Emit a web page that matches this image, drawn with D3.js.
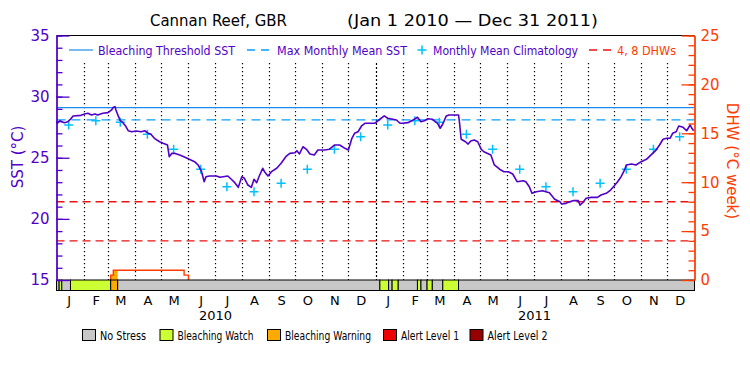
<!DOCTYPE html>
<html>
<head>
<meta charset="utf-8">
<script src="https://cdn.jsdelivr.net/npm/d3@7"></script>
<style>
  html, body { margin: 0; padding: 0; background: #fff; }
  svg { display: block; }
  text { font-family: "DejaVu Sans", sans-serif; }
</style>
</head>
<body>
<svg id="chart" width="750" height="375"></svg>
<script>
// ---------------- DATA ----------------
const siteName = "Cannan Reef, GBR";
const periodLabel = "(Jan 1 2010 \u2014 Dec 31 2011)";

const sstDates = [
"2010-01-01","2010-01-02","2010-01-05","2010-01-07","2010-01-10","2010-01-14","2010-01-17","2010-01-20","2010-01-29",
"2010-02-02","2010-02-06","2010-02-10","2010-02-14","2010-02-17","2010-02-23",
"2010-03-01","2010-03-05","2010-03-07","2010-03-09","2010-03-10","2010-03-13","2010-03-15","2010-03-18","2010-03-21","2010-03-24","2010-03-28",
"2010-04-02","2010-04-08","2010-04-12","2010-04-16","2010-04-19","2010-04-23","2010-04-29",
"2010-05-03","2010-05-08","2010-05-10","2010-05-13","2010-05-16","2010-05-22","2010-05-28",
"2010-06-02","2010-06-08","2010-06-12","2010-06-16","2010-06-19","2010-06-21","2010-06-25",
"2010-07-03","2010-07-07","2010-07-16","2010-07-20","2010-07-24","2010-07-28",
"2010-08-01","2010-08-04","2010-08-08","2010-08-12","2010-08-15","2010-08-18","2010-08-21","2010-08-25","2010-08-27","2010-08-31",
"2010-09-04","2010-09-10","2010-09-15","2010-09-21","2010-09-25",
"2010-10-01","2010-10-03","2010-10-06","2010-10-10","2010-10-14","2010-10-18","2010-10-23","2010-10-27",
"2010-11-04","2010-11-09","2010-11-15","2010-11-21","2010-11-27",
"2010-12-01","2010-12-05","2010-12-08","2010-12-12","2010-12-16","2010-12-20","2010-12-31",
"2011-01-06","2011-01-11","2011-01-15","2011-01-21","2011-01-25","2011-01-29",
"2011-02-01","2011-02-07","2011-02-13","2011-02-18","2011-02-22","2011-02-26",
"2011-03-02","2011-03-07","2011-03-13","2011-03-16","2011-03-19","2011-03-23","2011-03-26",
"2011-04-06","2011-04-07","2011-04-09","2011-04-14","2011-04-17","2011-04-20","2011-04-24","2011-04-28",
"2011-05-02","2011-05-05","2011-05-13","2011-05-17","2011-05-23","2011-05-28",
"2011-06-02","2011-06-07","2011-06-12","2011-06-19","2011-06-22","2011-06-26","2011-06-29",
"2011-07-04","2011-07-11","2011-07-15","2011-07-19","2011-07-22","2011-07-25","2011-07-31",
"2011-08-02","2011-08-07","2011-08-11","2011-08-15","2011-08-21","2011-08-23","2011-08-26","2011-08-30",
"2011-09-05","2011-09-12","2011-09-16","2011-09-22","2011-09-27",
"2011-10-01","2011-10-05","2011-10-09","2011-10-13","2011-10-15","2011-10-21","2011-10-26",
"2011-11-01","2011-11-07","2011-11-12","2011-11-18","2011-11-22","2011-11-26","2011-11-30",
"2011-12-04","2011-12-07","2011-12-11","2011-12-14","2011-12-19","2011-12-23","2011-12-27","2011-12-29","2011-12-31"
];
const sstValues = [
27.95,27.82,28.03,27.95,27.87,27.95,28.15,28.42,28.47,
28.58,28.64,28.50,28.58,28.50,28.64,
28.69,28.91,29.13,29.18,28.91,28.36,28.03,27.87,27.60,27.21,27.13,
27.19,27.13,27.21,27.00,26.92,26.59,26.31,
26.18,26.04,25.09,25.36,25.36,25.22,25.04,
24.87,24.68,24.41,23.86,23.04,23.45,23.51,
23.51,23.40,23.51,23.24,22.96,22.58,
23.45,23.32,22.77,22.58,23.24,22.96,23.51,24.14,23.86,23.51,
23.86,24.14,24.55,25.14,25.36,
25.41,25.58,25.31,25.90,25.69,25.31,25.22,25.63,
25.63,25.69,26.04,26.04,25.77,
25.63,26.59,27.00,27.13,27.60,27.82,27.82,
28.15,28.42,28.23,28.15,28.09,27.82,
27.82,27.87,28.09,28.31,27.95,28.03,
28.19,28.15,27.82,27.41,27.76,28.42,28.50,
28.50,27.95,26.51,26.31,26.12,26.37,26.45,26.31,
25.69,25.49,25.22,24.41,24.06,23.86,
23.86,23.67,23.04,23.12,23.04,22.63,22.09,
22.22,22.30,22.22,22.14,21.87,21.60,21.40,
21.22,21.27,21.40,21.49,21.49,21.13,21.32,21.68,
21.76,21.76,21.95,22.09,22.36,
22.69,23.04,23.45,24.00,24.41,24.49,24.41,
24.68,24.87,25.22,25.63,26.04,26.51,26.59,
26.59,27.00,27.13,27.60,27.49,27.21,27.68,27.41,27.21
];

// Monthly mean climatology (plotted on the 15th of each month, both years)
const climMonths = [1,2,3,4,5,6,7,8,9,10,11,12];
const climValues = [27.68,28.03,27.90,26.92,25.69,24.06,22.63,22.22,22.91,24.06,25.69,26.72];
const climYears = [2010, 2011];

const maxMonthlyMean = 28.1;
const bleachingThreshold = 29.1;
const dhwLevels = [4, 8];

// Degree heating weeks (step series)
const dhwDates  = ["2010-03-04","2010-03-04","2010-03-07","2010-05-27","2010-06-01"];
const dhwValues = [0, 0.5, 1.0, 0.5, 0];

// Stress level periods (start dates; each lasts until the next start)
const stressStarts = ["2010-01-01","2010-01-04","2010-01-07","2010-01-17","2010-03-04","2010-03-12",
  "2011-01-06","2011-01-16","2011-01-20","2011-01-27","2011-02-18","2011-02-22","2011-03-01","2011-03-07","2011-03-19","2011-04-06"];
const stressLevels = [0,1,0,1,2,0, 1,0,1,0,1,0,1,0,1,0];
const seriesEnd = "2012-01-01";

const stressNames = ["No Stress","Bleaching Watch","Bleaching Warning","Alert Level 1","Alert Level 2"];
const stressColors = ["#c8c8c8","#ccff33","#ffaa00","#ee0000","#960000"];

const monthLetters = ["J","F","M","A","M","J","J","A","S","O","N","D"];
const yearLabels = ["2010","2011"];
const sstTicks = [15,20,25,30,35];
const dhwTicks = [0,5,10,15,20,25];

const legendLabels = ["Bleaching Threshold SST","Max Monthly Mean SST","Monthly Mean Climatology","4, 8 DHWs"];

// ---------------- STYLE ----------------
const PURPLE = "#5000c8";
const ORANGE = "#ff3c00";
const BLUE = "#1a8cf0";
const BLUE2 = "#0aa0ff";
const CYAN = "#00c0ff";
const RED = "#ee1111";

const L = 56.5, R = 694.5, T = 35.5, B = 280, BAR_B = 290.5;

const parse = d3.utcParse("%Y-%m-%d");
const svg = d3.select("#chart");

const x = d3.scaleUtc().domain([parse("2010-01-01"), parse(seriesEnd)]).range([L, R]);
const ySST = d3.scaleLinear().domain([15, 35]).range([B, T]);
const yDHW = d3.scaleLinear().domain([0, 25]).range([B, T]);

// ---------------- TITLE ----------------
svg.append("text").attr("x", 150).attr("y", 26).attr("font-size", 15).attr("fill", "#000")
  .attr("textLength", 137).attr("lengthAdjust", "spacingAndGlyphs").text(siteName);
svg.append("text").attr("x", 347).attr("y", 26).attr("font-size", 15).attr("fill", "#000")
  .attr("textLength", 251).attr("lengthAdjust", "spacingAndGlyphs").text(periodLabel);

// ---------------- MONTH GRID ----------------
const monthStarts = d3.utcMonth.range(parse("2010-02-01"), parse("2011-12-02"));
svg.append("g").selectAll("line").data(monthStarts).join("line")
  .attr("x1", d => Math.round(x(d)) + 0.5).attr("x2", d => Math.round(x(d)) + 0.5)
  .attr("y1", 63).attr("y2", B)
  .attr("stroke", "#000").attr("stroke-width", 1.2)
  .attr("stroke-dasharray", d => d.getUTCMonth() === 0 ? "2,2" : "1.2,2.8");

// ---------------- REFERENCE LINES ----------------
svg.append("line").attr("x1", L).attr("x2", R)
  .attr("y1", ySST(bleachingThreshold)).attr("y2", ySST(bleachingThreshold))
  .attr("stroke", BLUE).attr("stroke-width", 1.2);
svg.append("line").attr("x1", L).attr("x2", R)
  .attr("y1", ySST(maxMonthlyMean)).attr("y2", ySST(maxMonthlyMean))
  .attr("stroke", BLUE2).attr("stroke-width", 1.4).attr("stroke-dasharray", "9,6");
svg.append("g").selectAll("line").data(dhwLevels).join("line")
  .attr("x1", L).attr("x2", R)
  .attr("y1", d => yDHW(d)).attr("y2", d => yDHW(d))
  .attr("stroke", RED).attr("stroke-width", 1.4).attr("stroke-dasharray", "8,5");

// ---------------- DHW ----------------
const dhwData = dhwDates.map((d, i) => ({ date: parse(d), v: dhwValues[i] }));
const warnIdx = stressLevels.indexOf(2);
const warnStart = parse(stressStarts[warnIdx]), warnEnd = parse(stressStarts[warnIdx + 1]);
svg.append("clipPath").attr("id", "warnclip").append("rect")
  .attr("x", x(warnStart)).attr("width", x(warnEnd) - x(warnStart)).attr("y", T).attr("height", B - T);
svg.append("path").datum(dhwData)
  .attr("clip-path", "url(#warnclip)")
  .attr("fill", stressColors[2])
  .attr("d", d3.area().curve(d3.curveStepAfter).x(d => x(d.date)).y0(B).y1(d => yDHW(d.v)));
svg.append("path").datum(dhwData)
  .attr("fill", "none").attr("stroke", ORANGE).attr("stroke-width", 1.4)
  .attr("d", d3.line().curve(d3.curveStepAfter).x(d => x(d.date)).y(d => yDHW(d.v)));

// ---------------- CLIMATOLOGY ----------------
const climData = [];
climYears.forEach(yr => climMonths.forEach((m, i) => climData.push({ date: new Date(Date.UTC(yr, m - 1, 15)), v: climValues[i] })));
svg.append("g").selectAll("path").data(climData).join("path")
  .attr("transform", d => `translate(${x(d.date)},${ySST(d.v)})`)
  .attr("d", "M-4.5,0H4.5M0,-4.5V4.5")
  .attr("stroke", CYAN).attr("stroke-width", 1.5).attr("fill", "none");

// ---------------- SST ----------------
const sstData = sstDates.map((d, i) => ({ date: parse(d), v: sstValues[i] }));
svg.append("path").datum(sstData)
  .attr("fill", "none").attr("stroke", PURPLE).attr("stroke-width", 1.6).attr("stroke-linejoin", "round")
  .attr("d", d3.line().x(d => x(d.date)).y(d => ySST(d.v)));

// ---------------- STRESS BAR ----------------
const stressData = stressStarts.map((s, i) => ({
  start: parse(s), end: parse(i + 1 < stressStarts.length ? stressStarts[i + 1] : seriesEnd), lvl: stressLevels[i]
}));
svg.append("g").selectAll("rect").data(stressData).join("rect")
  .attr("x", d => x(d.start)).attr("width", d => x(d.end) - x(d.start))
  .attr("y", B).attr("height", BAR_B - B)
  .attr("fill", d => stressColors[d.lvl]).attr("stroke", "#000").attr("stroke-width", 1);

// ---------------- FRAME & AXES ----------------
svg.append("line").attr("x1", L).attr("x2", R).attr("y1", T).attr("y2", T).attr("stroke", "#000").attr("stroke-width", 1.2);

const leftMinor = svg.append("g").attr("transform", `translate(${L},0)`)
  .call(d3.axisLeft(ySST).tickValues(d3.range(15, 35.5, 1)).tickSizeInner(-6).tickSizeOuter(0).tickFormat(""));
const leftMajor = svg.append("g").attr("transform", `translate(${L},0)`)
  .call(d3.axisLeft(ySST).tickValues(sstTicks).tickSizeInner(-13).tickSizeOuter(0).tickPadding(7).tickFormat(d3.format("d")));
[leftMinor, leftMajor].forEach(g => {
  g.selectAll("line, path").attr("stroke", PURPLE).attr("stroke-width", 1.3);
  g.selectAll("text").attr("fill", PURPLE).attr("font-size", 15).attr("font-family", "DejaVu Sans");
});

const rightMinor = svg.append("g").attr("transform", `translate(${R},0)`)
  .call(d3.axisRight(yDHW).tickValues(d3.range(0, 25.5, 1)).tickSizeInner(-6).tickSizeOuter(0).tickFormat(""));
const rightMajor = svg.append("g").attr("transform", `translate(${R},0)`)
  .call(d3.axisRight(yDHW).tickValues(dhwTicks).tickSizeInner(-13).tickSizeOuter(0).tickPadding(6).tickFormat(d3.format("d")));
[rightMinor, rightMajor].forEach(g => {
  g.selectAll("line, path").attr("stroke", ORANGE).attr("stroke-width", 1.3);
  g.selectAll("text").attr("fill", ORANGE).attr("font-size", 15).attr("font-family", "DejaVu Sans");
});

// Axis titles
svg.append("text").attr("transform", "translate(23,157) rotate(-90)").attr("text-anchor", "middle")
  .attr("fill", PURPLE).attr("font-size", 15).text("SST (\u00B0C)");
svg.append("text").attr("transform", "translate(727,161) rotate(90)").attr("text-anchor", "middle")
  .attr("fill", ORANGE).attr("font-size", 15).text("DHW (\u00B0C week)");

// Month labels
const midMonths = d3.utcMonth.range(parse("2010-01-01"), parse(seriesEnd)).map(d => d3.utcDay.offset(d, 14));
const monthAxis = svg.append("g").attr("transform", `translate(0,${BAR_B})`)
  .call(d3.axisBottom(x).tickValues(midMonths).tickSize(0).tickPadding(5)
    .tickFormat(d => monthLetters[d.getUTCMonth()]));
monthAxis.select(".domain").remove();
monthAxis.selectAll("text").attr("fill", "#000").attr("font-size", 13).attr("font-family", "DejaVu Sans");

// Year labels
svg.append("g").selectAll("text").data(yearLabels).join("text")
  .attr("x", d => x(new Date(Date.UTC(+d, 6, 2)))).attr("y", 320)
  .attr("text-anchor", "middle").attr("font-size", 13).attr("fill", "#000").text(d => d);

// ---------------- TOP LEGEND ----------------
const LY = 50;
const lg = svg.append("g");
lg.append("line").attr("x1", 69).attr("x2", 93).attr("y1", LY).attr("y2", LY).attr("stroke", BLUE).attr("stroke-width", 1.2);
lg.append("text").attr("x", 98).attr("y", LY + 4.5).attr("font-size", 12.5).attr("fill", PURPLE)
  .attr("textLength", 137).attr("lengthAdjust", "spacingAndGlyphs").text(legendLabels[0]);
lg.append("line").attr("x1", 247).attr("x2", 271).attr("y1", LY).attr("y2", LY).attr("stroke", BLUE2)
  .attr("stroke-width", 1.4).attr("stroke-dasharray", "8,6");
lg.append("text").attr("x", 277).attr("y", LY + 4.5).attr("font-size", 12.5).attr("fill", PURPLE)
  .attr("textLength", 130).attr("lengthAdjust", "spacingAndGlyphs").text(legendLabels[1]);
lg.append("path").attr("transform", `translate(422,${LY})`).attr("d", "M-4.5,0H4.5M0,-4.5V4.5")
  .attr("stroke", CYAN).attr("stroke-width", 1.5);
lg.append("text").attr("x", 433).attr("y", LY + 4.5).attr("font-size", 12.5).attr("fill", PURPLE)
  .attr("textLength", 145).attr("lengthAdjust", "spacingAndGlyphs").text(legendLabels[2]);
lg.append("line").attr("x1", 589).attr("x2", 611).attr("y1", LY).attr("y2", LY).attr("stroke", RED)
  .attr("stroke-width", 1.4).attr("stroke-dasharray", "8,6");
lg.append("text").attr("x", 617).attr("y", LY + 4.5).attr("font-size", 12.5).attr("fill", ORANGE)
  .attr("textLength", 59).attr("lengthAdjust", "spacingAndGlyphs").text(legendLabels[3]);

// ---------------- BOTTOM LEGEND ----------------
const boxX = [82, 159.5, 267, 383, 469.5];
const textLen = [46, 76, 86, 58, 60];
const bl = svg.append("g");
stressNames.forEach((name, i) => {
  bl.append("rect").attr("x", boxX[i] + 0.5).attr("y", 329.5).attr("width", 13).attr("height", 11)
    .attr("fill", stressColors[i]).attr("stroke", "#000").attr("stroke-width", 1);
  bl.append("text").attr("x", boxX[i] + 18).attr("y", 340).attr("font-size", 11.5).attr("fill", "#000")
    .attr("textLength", textLen[i]).attr("lengthAdjust", "spacingAndGlyphs").text(name);
});
</script>
</body>
</html>
